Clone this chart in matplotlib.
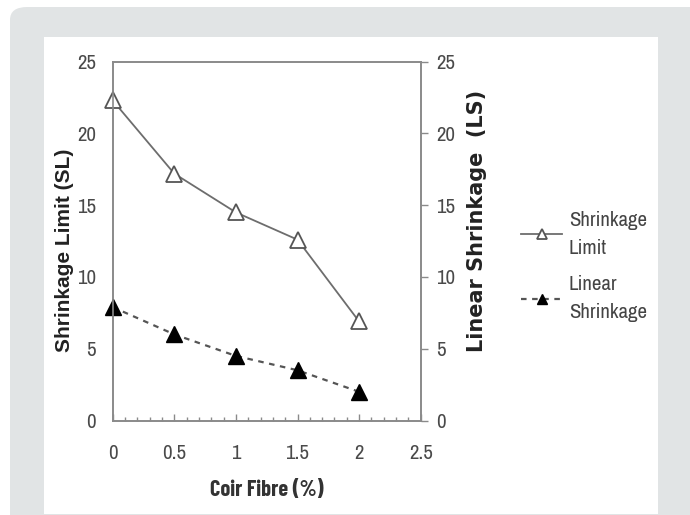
import matplotlib
matplotlib.use("Agg")
import matplotlib.pyplot as plt
from matplotlib.patches import FancyBboxPatch, Rectangle
from matplotlib.ticker import MultipleLocator

# data
coir = [0, 0.5, 1, 1.5, 2]
shrinkage_limit = [22.3, 17.2, 14.5, 12.6, 6.9]
linear_shrinkage = [7.9, 6.0, 4.5, 3.5, 2.0]
y_ticks = [0, 5, 10, 15, 20, 25]
x_ticks = [0, 0.5, 1, 1.5, 2, 2.5]

narrow = ['Archivo Narrow', 'DejaVu Sans']
cond_bold = ['Barlow Condensed', 'DejaVu Sans']
boldf = ['Liberation Sans', 'DejaVu Sans']

W, H = 690, 515
fig = plt.figure(figsize=(W / 100, H / 100), dpi=100)
fig.patch.set_facecolor('white')

# page background: grey rounded card with white panel
fig.patches.append(FancyBboxPatch((10 / W, -0.1), (W - 10) / W + 0.1, (H - 7) / H + 0.1,
                                  boxstyle='round,pad=0,rounding_size=0.025',
                                  transform=fig.transFigure, facecolor='#e1e4e5',
                                  edgecolor='none', zorder=-3))
fig.patches.append(Rectangle((44 / W, 1 / H), (658 - 44) / W, (H - 37 - 1) / H,
                             transform=fig.transFigure, facecolor='white',
                             edgecolor='none', zorder=-2))

ax = fig.add_axes([112.7 / W, (H - 420.5) / H, 308 / W, 358.8 / H])
ax.patch.set_alpha(0)
ax2 = ax.twinx()

spine_c = '#8a8a8a'
for a in (ax, ax2):
    for s in a.spines.values():
        s.set_color(spine_c)
        s.set_linewidth(1.2)

l1, = ax.plot(coir, shrinkage_limit, '-', color='#6d6d6d', lw=1.3, marker='^',
              markersize=11, markerfacecolor='white', markeredgecolor='#555555',
              markeredgewidth=1.3, label='Shrinkage\nLimit', clip_on=False, zorder=3)
l2, = ax.plot(coir, linear_shrinkage, linestyle=(0, (2.5, 2.5)), color='#555555', lw=1.6,
              marker='^', markersize=11, markerfacecolor='black', markeredgecolor='black',
              label='Linear\nShrinkage', clip_on=False, zorder=3)

ax.set_xlim(0, 2.5)
ax.set_ylim(0, 25)
ax2.set_ylim(0, 25)
ax.set_xticks(x_ticks)
ax.set_xticklabels(['0', '0.5', '1', '1.5', '2', '2.5'])
ax.xaxis.set_minor_locator(MultipleLocator(0.1))
ax.set_yticks(y_ticks)
ax2.set_yticks(y_ticks)

ax.tick_params(axis='x', which='major', direction='in', length=5, width=1,
               color=spine_c, pad=17, labelsize=15, labelcolor='#4a4a4a')
ax.tick_params(axis='x', which='minor', direction='in', length=3, width=1, color=spine_c)
ax.tick_params(axis='y', length=0, pad=12, labelsize=15, labelcolor='#4a4a4a')
ax2.tick_params(axis='y', direction='out', length=5, width=1, color=spine_c,
                pad=6, labelsize=15, labelcolor='#4a4a4a')
for lab in ax.get_xticklabels() + ax.get_yticklabels() + ax2.get_yticklabels():
    lab.set_family(narrow)

ax.set_xlabel('Coir Fibre (%)', fontsize=16, family=cond_bold, fontweight='bold',
              color='#333333', labelpad=12)
ax.set_ylabel('Shrinkage Limit (SL)', fontsize=15, family=boldf, fontweight='bold',
              color='#222222', va='center')
ax2.set_ylabel('Linear Shrinkage  (LS)', fontsize=15, family=['DejaVu Sans'],
               fontweight='bold', color='#222222', va='center', rotation=90)
ax.yaxis.set_label_coords(-0.155, 0.475)
ax2.yaxis.set_label_coords(1.183, 0.556)

leg = fig.legend(handles=[l1, l2], loc='upper left', bbox_to_anchor=(502 / W, 1 - 192 / H),
                 frameon=False, prop={'family': narrow, 'size': 15}, handlelength=2.0,
                 labelspacing=0.85, handletextpad=0.3, markerscale=0.6)
for t in leg.get_texts():
    t.set_color('#444444')
    t.set_linespacing(1.6)

fig.savefig('out.png', dpi=100)
